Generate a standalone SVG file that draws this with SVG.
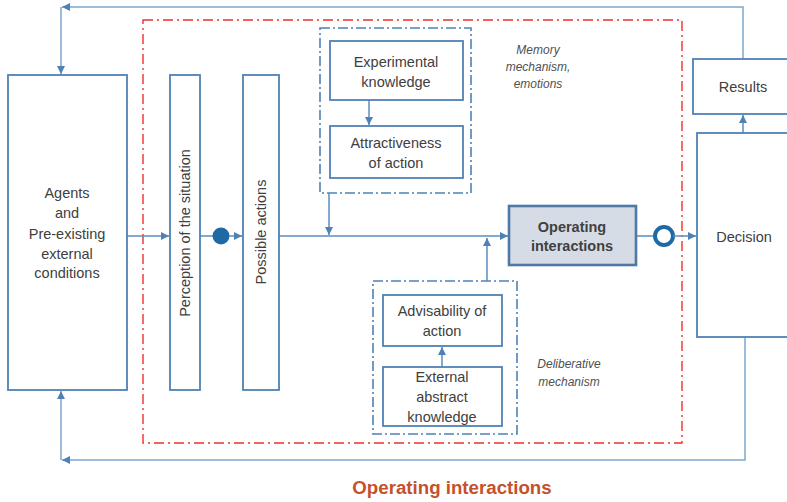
<svg xmlns="http://www.w3.org/2000/svg" width="787" height="502" viewBox="0 0 787 502">
<defs>
<style>
.box{fill:#fff;stroke:#4f81b4;stroke-width:1.8}
.op{fill:#d6dce6;stroke:#4f78a6;stroke-width:2.6}
.grp{fill:none;stroke:#4f81b4;stroke-width:1.6;stroke-dasharray:10 3 2 3}
.red{fill:none;stroke:#f0302a;stroke-width:1.4;stroke-dasharray:10 4 2 4}
.t{font-family:"Liberation Sans",Arial,sans-serif;font-size:14.5px;fill:#404040;text-anchor:middle}
.b{font-weight:bold}
.i{font-family:"Liberation Sans",Arial,sans-serif;font-size:12px;font-style:italic;fill:#505050;text-anchor:middle}
.c{fill:none;stroke:#5a8cc0;stroke-width:1.5}
.fb{fill:none;stroke:#7ba6d0;stroke-width:1.5}
</style>
<marker id="ah" viewBox="0 0 10 10" refX="10" refY="5" markerWidth="8" markerHeight="8" markerUnits="userSpaceOnUse" orient="auto">
<path d="M0,0 L10,5 L0,10 z" fill="#4f81b4"/>
</marker>
</defs>
<rect width="787" height="502" fill="#fff"/>
<rect class="red" x="143" y="20" width="539" height="423"/>
<g id="memory-group">
<rect class="grp" x="320" y="28" width="151" height="165"/>
<text class="i" x="538" y="54">Memory</text>
<text class="i" x="538" y="71">mechanism,</text>
<text class="i" x="538" y="88">emotions</text>
</g>
<g id="deliberative-group">
<rect class="grp" x="373" y="281" width="144" height="153"/>
<text class="i" x="569" y="368">Deliberative</text>
<text class="i" x="569" y="386">mechanism</text>
</g>
<g id="connectors">
<path class="fb" d="M743,58 V7 H62" marker-end="url(#ah)"/>
<path class="fb" d="M61,7 V74" marker-end="url(#ah)"/>
<path class="fb" d="M745,337 V460 H62" marker-end="url(#ah)"/>
<path class="fb" d="M61,460 V391" marker-end="url(#ah)"/>
<path class="c" d="M127,236 H169" marker-end="url(#ah)"/>
<path class="c" d="M200,236 H214"/>
<circle cx="221" cy="236" r="8.5" fill="#1f6aa5"/>
<path class="c" d="M229,236 H242" marker-end="url(#ah)"/>
<path class="c" d="M279,236 H508" marker-end="url(#ah)"/>
<path class="c" d="M329,193 V235" marker-end="url(#ah)"/>
<path class="c" d="M487,281 V238" marker-end="url(#ah)"/>
<path class="c" d="M369,100 V125" marker-end="url(#ah)"/>
<path class="c" d="M442,367 V347" marker-end="url(#ah)"/>
<path class="c" d="M636,236 H655"/>
<circle cx="664" cy="236" r="9" fill="#fff" stroke="#1f6aa5" stroke-width="4"/>
<path class="c" d="M673,236 H696" marker-end="url(#ah)"/>
<path class="c" d="M743,133 V115" marker-end="url(#ah)"/>
</g>
<g id="agents">
<rect class="box" x="8" y="75" width="119" height="315"/>
<text class="t" x="67" y="198">Agents</text>
<text class="t" x="67" y="218">and</text>
<text class="t" x="67" y="239">Pre-existing</text>
<text class="t" x="67" y="259">external</text>
<text class="t" x="67" y="278">conditions</text>
</g>
<g id="perception">
<rect class="box" x="170" y="75" width="30" height="315"/>
<text class="t" transform="translate(190,233) rotate(-90)">Perception of the situation</text>
</g>
<g id="possible-actions">
<rect class="box" x="243" y="75" width="36" height="315"/>
<text class="t" transform="translate(266,232) rotate(-90)">Possible actions</text>
</g>
<g id="experimental">
<rect class="box" x="330" y="41" width="133" height="59"/>
<text class="t" x="396" y="67">Experimental</text>
<text class="t" x="396" y="87">knowledge</text>
</g>
<g id="attractiveness">
<rect class="box" x="330" y="126" width="133" height="52"/>
<text class="t" x="396" y="148">Attractiveness</text>
<text class="t" x="396" y="168">of action</text>
</g>
<g id="operating">
<rect class="op" x="509" y="206" width="127" height="59"/>
<text class="t b" x="572" y="232">Operating</text>
<text class="t b" x="572" y="251">interactions</text>
</g>
<g id="advisability">
<rect class="box" x="383" y="295" width="119" height="51"/>
<text class="t" x="442" y="316">Advisability of</text>
<text class="t" x="442" y="336">action</text>
</g>
<g id="external">
<rect class="box" x="383" y="367" width="119" height="59"/>
<text class="t" x="442" y="382">External</text>
<text class="t" x="442" y="402">abstract</text>
<text class="t" x="442" y="422">knowledge</text>
</g>
<g id="results">
<rect class="box" x="693" y="59" width="110" height="55"/>
<text class="t" x="743" y="92">Results</text>
</g>
<g id="decision">
<rect class="box" x="697" y="133" width="110" height="204"/>
<text class="t" x="744" y="242">Decision</text>
</g>
<text x="452" y="494" font-family="'Liberation Sans',Arial,sans-serif" font-size="18.7" font-weight="bold" fill="#c5512c" text-anchor="middle">Operating interactions</text>
</svg>
